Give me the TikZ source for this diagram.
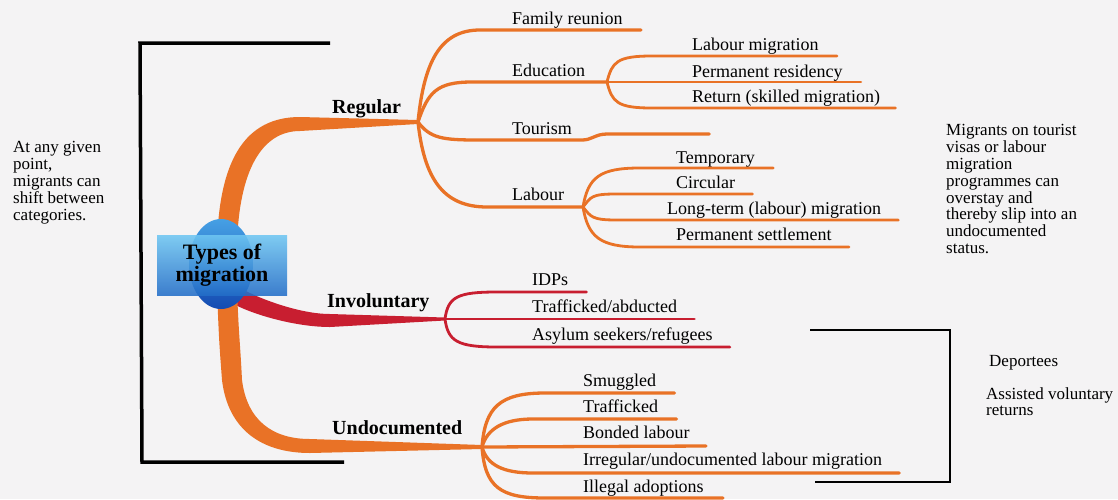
\documentclass[tikz,border=0pt]{standalone}
\usepackage{fontspec}
\setmainfont{Liberation Serif}
\usetikzlibrary{calc}
\definecolor{bgcol}{HTML}{F4F3F4}
\definecolor{mapOrange}{RGB}{233,114,38}
\definecolor{mapRed}{RGB}{200,30,48}
\definecolor{boxTop}{RGB}{110,198,242}
\definecolor{boxBot}{RGB}{35,110,200}
\definecolor{blobTop}{RGB}{70,160,228}
\definecolor{blobBot}{RGB}{20,75,178}
\begin{document}
\begin{tikzpicture}[x=1pt,y=-1pt,
    twig/.style={line width=3.3pt,mapOrange,line cap=round},
    thintwig/.style={line width=2.8pt,mapOrange,line cap=round},
    redtwig/.style={line width=2.8pt,mapRed,line cap=round},
    leaf/.style={anchor=base west,inner sep=0pt,font=\fontsize{18}{20}\selectfont},
    branch/.style={anchor=base west,inner sep=0pt,font=\bfseries\fontsize{20}{22}\selectfont},
    note/.style={anchor=north west,inner sep=0pt,align=left,font=\fontsize{17}{16.9}\selectfont},
    bracket/.style={line width=3.5pt,black},
    centerbox/.style={rectangle,minimum width=130pt,minimum height=60pt,inner sep=0pt,
        top color=boxTop,bottom color=boxBot,fill opacity=0.88,text opacity=1,
        align=center,font=\bfseries\fontsize{22}{22}\selectfont}]
                \useasboundingbox (0,0) rectangle (1118,499);
                \fill[bgcol] (0,0) rectangle (1118,499);
                % brackets
                \coordinate (lbtop) at (330,43);
                \coordinate (lbcorner) at (140,43);
                \coordinate (lbfoot) at (142,462);
                \coordinate (lbend) at (344,462);
                \draw[bracket] (lbtop) -- (lbcorner) -- (lbfoot) -- (lbend);
                \coordinate (rbtop) at (810,330);
                \coordinate (rbcorner) at (950,330);
                \coordinate (rbfoot) at (950,482);
                \coordinate (rbend) at (815,482);
                \draw[bracket,line width=2.8pt] (rbtop) -- (rbcorner) -- (rbfoot) -- (rbend);
                % main branches
                \coordinate (typesc) at (222,265);
                \coordinate (regroot) at (227,245);
                \coordinate (regbend) at (300,124);
                \coordinate (regfork) at (418,122);
                \fill[mapOrange] ($(regroot)+(-10,0)$) .. controls +(2,-85) and +(-55,0) .. ($(regbend)+(0,-7)$)
                    -- ($(regfork)+(0,-2)$) -- ($(regfork)+(0,2)$) -- ($(regbend)+(0,7)$)
                    .. controls +(-38,0) and +(2,-75) .. ($(regroot)+(10,0)$) -- cycle;
                \coordinate (invroot) at (238,296);
                \coordinate (invbend) at (330,320);
                \coordinate (invfork) at (445,319);
                \fill[mapRed] ($(invroot)+(8,-5)$) .. controls +(15,8) and +(-30,0) .. ($(invbend)+(0,-6)$)
                    -- ($(invfork)+(0,-1.5)$) -- ($(invfork)+(0,1.5)$) -- ($(invbend)+(0,7)$)
                    .. controls +(-35,0) and +(20,12) .. ($(invroot)+(-8,6)$) -- cycle;
                \coordinate (undroot) at (227,290);
                \coordinate (undknee) at (232,380);
                \coordinate (undbend) at (310,446);
                \coordinate (undfork) at (482,447);
                \fill[mapOrange] ($(undroot)+(-10,0)$) .. controls +(2,50) and +(-3,-40) .. ($(undknee)+(-10,0)$)
                    .. controls +(6,50) and +(-48,0) .. ($(undbend)+(0,7)$)
                    -- ($(undfork)+(0,2)$) -- ($(undfork)+(0,-2)$) -- ($(undbend)+(0,-7)$)
                    .. controls +(-38,0) and +(5,40) .. ($(undknee)+(10,0)$)
                    .. controls +(-2,-40) and +(2,50) .. ($(undroot)+(10,0)$) -- cycle;
                % centre
                \shade[top color=blobTop,bottom color=blobBot] (221,264) ellipse [x radius=32,y radius=45];
                \node[centerbox] (types) at (typesc) {Types of\\migration};
                % regular
                \node[branch] (reg) at (332,113) {Regular};
                \node[leaf] (fam) at (512,24) {Family reunion};
                \node[leaf] (edu) at (512,76) {Education};
                \node[leaf] (tour) at (512,134) {Tourism};
                \node[leaf] (lab) at (512,200) {Labour};
                \coordinate (edufork) at (607,82);
                \coordinate (labfork) at (583,207);
                \draw[twig] (regfork) .. controls +(6,-60) and +(-40,0) .. ($(fam.base west)+(-32,6)$) -- ($(fam.base east)+(18,6)$);
                \draw[twig] (regfork) .. controls +(10,-30) and +(-35,0) .. ($(edu.base west)+(-40,6)$) -- (edufork);
                \draw[twig] (regfork) .. controls +(12,16) and +(-35,0) .. ($(tour.base west)+(-35,6)$) -- ($(tour.base east)+(10,6)$)
                    .. controls +(10,0) and +(-12,0) .. ($(tour.base east)+(35,0)$) -- ($(tour.base east)+(137,0)$);
                \draw[twig] (regfork) .. controls +(6,55) and +(-45,0) .. ($(lab.base west)+(-25,7)$) -- (labfork);
                \node[leaf] (lmig) at (692,50) {Labour migration};
                \node[leaf] (pres) at (692,77) {Permanent residency};
                \node[leaf] (ret) at (692,102) {Return (skilled migration)};
                \draw[thintwig] (edufork) .. controls +(5,-20) and +(-35,0) .. ($(lmig.base west)+(-40,6)$) -- ($(lmig.base east)+(18,6)$);
                \draw[thintwig] (edufork) -- ($(pres.base east)+(18,5)$);
                \draw[thintwig] (edufork) .. controls +(5,20) and +(-35,0) .. ($(ret.base west)+(-40,6)$) -- ($(ret.base east)+(15,6)$);
                \node[leaf] (temp) at (676,163) {Temporary};
                \node[leaf] (circ) at (676,188) {Circular};
                \node[leaf] (lterm) at (667,214) {Long-term (labour) migration};
                \node[leaf] (perm) at (676,240) {Permanent settlement};
                \draw[thintwig] (labfork) .. controls +(5,-30) and +(-40,0) .. ($(temp.base west)+(-36,5)$) -- ($(temp.base east)+(18,5)$);
                \draw[thintwig] (labfork) .. controls +(8,-10) and +(-25,0) .. ($(circ.base west)+(-60,6)$) -- ($(circ.base east)+(17,6)$);
                \draw[thintwig] (labfork) .. controls +(8,10) and +(-25,0) .. ($(lterm.base west)+(-50,6)$) -- ($(lterm.base east)+(17,6)$);
                \draw[thintwig] (labfork) .. controls +(5,30) and +(-40,0) .. ($(perm.base west)+(-36,7)$) -- ($(perm.base east)+(17,7)$);
                % involuntary
                \node[branch] (invol) at (327,307) {Involuntary};
                \node[leaf] (idp) at (532,285) {IDPs};
                \node[leaf] (traf) at (532,312) {Trafficked/abducted};
                \node[leaf] (asyl) at (532,340) {Asylum seekers/refugees};
                \draw[redtwig] (invfork) .. controls +(3,-22) and +(-40,0) .. ($(idp.base west)+(-35,7)$) -- ($(idp.base east)+(18,7)$);
                \draw[redtwig] (invfork) -- ($(traf.base east)+(17,7)$);
                \draw[redtwig] (invfork) .. controls +(3,22) and +(-40,0) .. ($(asyl.base west)+(-35,7)$) -- ($(asyl.base east)+(17,7)$);
                % undocumented
                \node[branch] (undoc) at (332,434) {Undocumented};
                \node[leaf] (smug) at (583,386) {Smuggled};
                \node[leaf] (trf) at (583,412) {Trafficked};
                \node[leaf] (bond) at (583,438) {Bonded labour};
                \node[leaf] (irr) at (583,465) {Irregular/undocumented labour migration};
                \node[leaf] (adopt) at (583,492) {Illegal adoptions};
                \draw[twig] (undfork) .. controls +(3,-40) and +(-45,0) .. ($(smug.base west)+(-38,7)$) -- ($(smug.base east)+(18,7)$);
                \draw[twig] (undfork) .. controls +(5,-18) and +(-30,0) .. ($(trf.base west)+(-50,7)$) -- ($(trf.base east)+(18,7)$);
                \draw[twig] (undfork) -- ($(bond.base east)+(16,8)$);
                \draw[twig] (undfork) .. controls +(5,18) and +(-30,0) .. ($(irr.base west)+(-50,8)$) -- ($(irr.base east)+(17,8)$);
                \draw[twig] (undfork) .. controls +(3,40) and +(-45,0) .. ($(adopt.base west)+(-38,6)$) -- ($(adopt.base east)+(19,6)$);
                % notes
                \node[note] (shift) at (13,141) {At any given\\point,\\migrants can\\shift between\\categories.};
                \node[note] (overstay) at (946,124) {Migrants on tourist\\visas or labour\\migration\\programmes can\\overstay and\\thereby slip into an\\undocumented\\status.};
                \node[note] (deport) at (989,355) {Deportees};
                \node[note] (avr) at (986,387) {Assisted voluntary\\returns};
\end{tikzpicture}
\end{document}
